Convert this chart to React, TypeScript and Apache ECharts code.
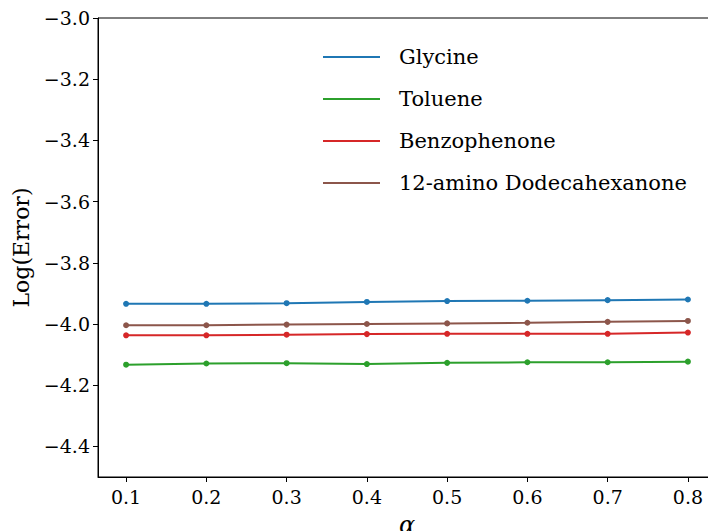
import React, { useEffect, useRef } from "react";
import * as echarts from "echarts";

const alphas = [0.1, 0.2, 0.3, 0.4, 0.5, 0.6, 0.7, 0.8];
const glycine = [-3.934, -3.934, -3.932, -3.928, -3.925, -3.924, -3.922, -3.92];
const toluene = [-4.133, -4.129, -4.128, -4.131, -4.127, -4.125, -4.125, -4.123];
const benzophenone = [-4.037, -4.037, -4.035, -4.033, -4.032, -4.032, -4.032, -4.028];
const dodeca = [-4.004, -4.004, -4.002, -4.0, -3.998, -3.996, -3.993, -3.99];
const yTicks = [-4.4, -4.2, -4.0, -3.8, -3.6, -3.4, -3.2, -3.0];
const xTicks = [0.1, 0.2, 0.3, 0.4, 0.5, 0.6, 0.7, 0.8];

const seriesDefs = [
  { name: "Glycine", data: glycine, color: "#1f77b4" },
  { name: "Toluene", data: toluene, color: "#2ca02c" },
  { name: "Benzophenone", data: benzophenone, color: "#d62728" },
  { name: "12-amino Dodecahexanone", data: dodeca, color: "#8c564b" },
];

const FONT = "DejaVu Serif";

const fmt = (v: number) => (v < 0 ? "\u2212" : "") + Math.abs(v).toFixed(1);

export default function App() {
  const ref = useRef<HTMLDivElement>(null);
  useEffect(() => {
    const chart = echarts.init(ref.current!, null, { renderer: "svg" });
    chart.setOption({
      animation: false,
      backgroundColor: "#ffffff",
      grid: {
        left: 98, top: 18, width: 618, height: 459, show: true,
        borderColor: "#000", borderWidth: 1, outerBoundsMode: "none", containLabel: false,
      },
      legend: {
        orient: "vertical",
        left: 318,
        top: 39,
        icon: "rect",
        itemWidth: 57,
        itemHeight: 2,
        itemGap: 16,
        textStyle: { fontFamily: FONT, fontSize: 21, color: "#000", lineHeight: 26, padding: [0, 0, 0, 14] },
        data: seriesDefs.map((s) => ({ name: s.name, itemStyle: { color: s.color } })),
      },
      xAxis: {
        type: "value",
        min: 0.065,
        max: 0.835,
        name: "\u03b1",
        nameLocation: "middle",
        nameGap: 36,
        nameTextStyle: { fontFamily: FONT, fontSize: 24, fontStyle: "italic", color: "#000" },
        axisLine: { show: true, onZero: false, lineStyle: { color: "#000", width: 1 } },
        axisTick: { show: true, length: 5, lineStyle: { color: "#000" }, customValues: xTicks },
        axisLabel: {
          fontFamily: FONT, fontSize: 19, color: "#000", margin: 10,
          customValues: xTicks, formatter: (v: number) => v.toFixed(1),
        },
        splitLine: { show: false },
      },
      yAxis: {
        type: "value",
        min: -4.5,
        max: -3.0,
        name: "Log(Error)",
        nameLocation: "middle",
        nameRotate: 90,
        nameGap: 58,
        nameTextStyle: { fontFamily: FONT, fontSize: 22, color: "#000" },
        axisLine: { show: true, onZero: false, lineStyle: { color: "#000", width: 1 } },
        axisTick: { show: true, length: 5, lineStyle: { color: "#000" }, customValues: yTicks },
        axisLabel: {
          fontFamily: FONT, fontSize: 19, color: "#000", margin: 8,
          customValues: yTicks, formatter: fmt,
        },
        splitLine: { show: false },
      },
      series: seriesDefs.map((s) => ({
        name: s.name,
        type: "line",
        data: alphas.map((a, i) => [a, s.data[i]]),
        symbol: "circle",
        symbolSize: 6,
        lineStyle: { color: s.color, width: 2 },
        itemStyle: { color: s.color },
      })),
    });
    return () => chart.dispose();
  }, []);
  return <div ref={ref} style={{ width: 708, height: 531, position: "absolute", left: 0, top: 0 }} />;
}
